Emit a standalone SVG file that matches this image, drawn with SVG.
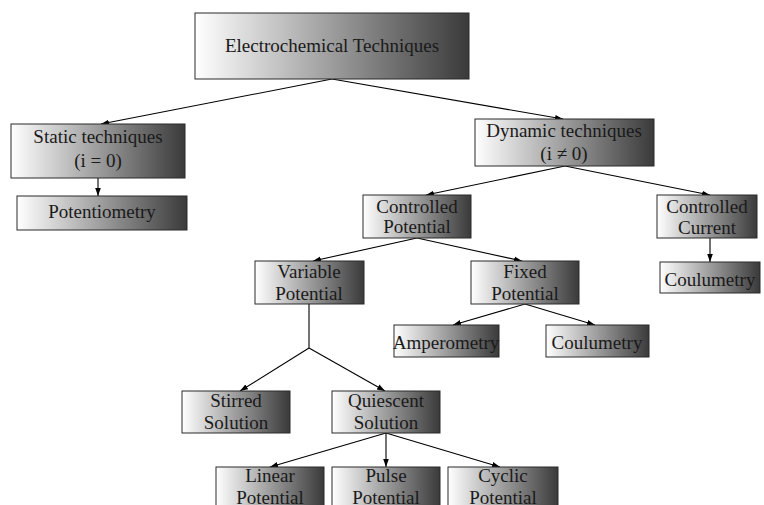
<svg xmlns="http://www.w3.org/2000/svg" width="764" height="505" viewBox="0 0 764 505">
<defs>
<linearGradient id="g" x1="0" y1="0" x2="1" y2="0">
<stop offset="0" stop-color="#ffffff"/>
<stop offset="1" stop-color="#3a3a3a"/>
</linearGradient>
<marker id="ah" viewBox="0 0 10 10" refX="10" refY="5" markerWidth="8" markerHeight="8" markerUnits="userSpaceOnUse" orient="auto">
<path d="M0,1.5 L10,5 L0,8.5 z" fill="#000"/>
</marker>
</defs>
<style>
.b{fill:url(#g);stroke:#2a2a2a;stroke-width:1}
.t{font-family:"Liberation Serif","Times New Roman",serif;font-size:19px;fill:#1a1a1a;text-anchor:middle}
.c line,.c polyline{stroke:#000;stroke-width:1.1;fill:none}
.a{marker-end:url(#ah)}
</style>
<rect width="764" height="505" fill="#fff"/>
<g class="c" id="connectors">
<line class="a" x1="332" y1="79" x2="101" y2="124"/>
<line class="a" x1="332" y1="79" x2="563" y2="119"/>
<line class="a" x1="98" y1="178" x2="98" y2="196"/>
<line class="a" x1="565" y1="166" x2="426" y2="195"/>
<line class="a" x1="565" y1="166" x2="710" y2="195"/>
<line class="a" x1="710" y1="238" x2="710" y2="262"/>
<line class="a" x1="417" y1="238" x2="313" y2="261"/>
<line class="a" x1="417" y1="238" x2="522" y2="261"/>
<line class="a" x1="525" y1="304" x2="453" y2="325"/>
<line class="a" x1="525" y1="304" x2="595" y2="325"/>
<polyline points="309,304 309,348"/>
<line class="a" x1="309" y1="348" x2="240" y2="391"/>
<line class="a" x1="309" y1="348" x2="385" y2="391"/>
<line class="a" x1="386" y1="433" x2="270" y2="467"/>
<line class="a" x1="386" y1="433" x2="386" y2="467"/>
<line class="a" x1="386" y1="433" x2="500" y2="467"/>
</g>
<g id="n-electro"><rect class="b" x="195" y="13" width="274" height="66"/><text class="t" x="332" y="52">Electrochemical Techniques</text></g>
<g id="n-static"><rect class="b" x="11" y="124" width="174" height="54"/><text class="t" x="98" y="143">Static techniques</text><text class="t" x="98" y="167">(i = 0)</text></g>
<g id="n-potentiometry"><rect class="b" x="17" y="196" width="170" height="34"/><text class="t" x="102" y="218">Potentiometry</text></g>
<g id="n-dynamic"><rect class="b" x="475" y="119" width="179" height="47"/><text class="t" x="564" y="137">Dynamic techniques</text><text class="t" x="564" y="160">(i ≠ 0)</text></g>
<g id="n-cpot"><rect class="b" x="363" y="195" width="108" height="43"/><text class="t" x="417" y="213">Controlled</text><text class="t" x="417" y="233">Potential</text></g>
<g id="n-ccur"><rect class="b" x="657" y="195" width="100" height="43"/><text class="t" x="707" y="213">Controlled</text><text class="t" x="707" y="234">Current</text></g>
<g id="n-coul2"><rect class="b" x="660" y="262" width="100" height="31"/><text class="t" x="710" y="286">Coulumetry</text></g>
<g id="n-var"><rect class="b" x="255" y="261" width="109" height="43"/><text class="t" x="309" y="278">Variable</text><text class="t" x="309" y="300">Potential</text></g>
<g id="n-fixed"><rect class="b" x="471" y="261" width="108" height="43"/><text class="t" x="525" y="278">Fixed</text><text class="t" x="525" y="300">Potential</text></g>
<g id="n-amp"><rect class="b" x="394" y="325" width="105" height="32"/><text class="t" x="446" y="349">Amperometry</text></g>
<g id="n-coul1"><rect class="b" x="546" y="325" width="103" height="32"/><text class="t" x="597" y="349">Coulumetry</text></g>
<g id="n-stirred"><rect class="b" x="182" y="391" width="108" height="42"/><text class="t" x="236" y="407">Stirred</text><text class="t" x="236" y="429">Solution</text></g>
<g id="n-quiescent"><rect class="b" x="332" y="391" width="108" height="42"/><text class="t" x="386" y="407">Quiescent</text><text class="t" x="386" y="429">Solution</text></g>
<g id="n-linear"><rect class="b" x="216" y="467" width="108" height="50"/><text class="t" x="270" y="482">Linear</text><text class="t" x="270" y="504">Potential</text></g>
<g id="n-pulse"><rect class="b" x="332" y="467" width="108" height="50"/><text class="t" x="386" y="482">Pulse</text><text class="t" x="386" y="504">Potential</text></g>
<g id="n-cyclic"><rect class="b" x="448" y="467" width="110" height="50"/><text class="t" x="503" y="482">Cyclic</text><text class="t" x="503" y="504">Potential</text></g>
</svg>
